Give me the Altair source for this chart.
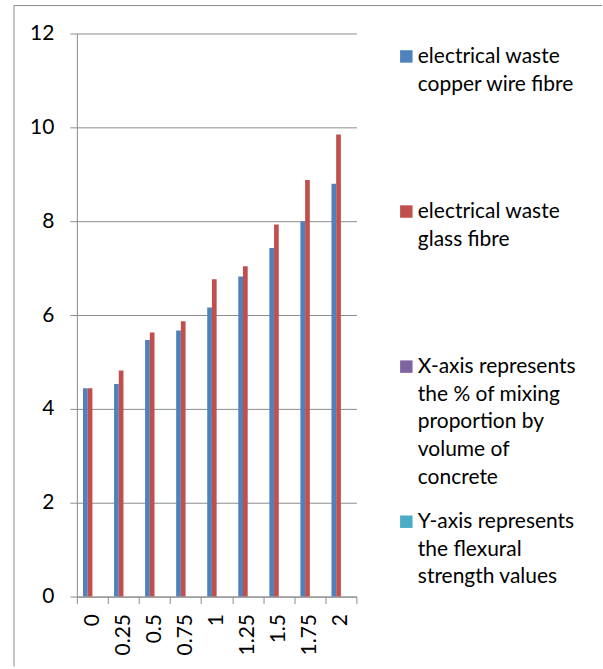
import altair as alt
import pandas as pd

# Mixing proportion (% by volume of concrete) on the x axis
categories = ["0", "0.25", "0.5", "0.75", "1", "1.25", "1.5", "1.75", "2"]

# Flexural strength values for each fibre type
copper_wire_fibre = [4.44, 4.53, 5.47, 5.67, 6.16, 6.82, 7.43, 8.00, 8.80]
glass_fibre = [4.44, 4.82, 5.63, 5.87, 6.76, 7.04, 7.93, 8.88, 9.85]

# Legend entries (the last two carry notes, not data)
series_keys = ["copper", "glass", "xnote", "ynote"]
series_labels = [
    "electrical waste\ncopper wire fibre",
    "electrical waste\nglass fibre",
    "X-axis represents\nthe % of mixing\nproportion by\nvolume of\nconcrete",
    "Y-axis represents\nthe flexural\nstrength values",
]
series_colors = ["#4F81BD", "#C0504D", "#8064A2", "#4BACC6"]

y_ticks = [0, 2, 4, 6, 8, 10, 12]

FONT = "Lato"
GRAY = "#8c8c8c"

bar_df = pd.DataFrame(
    {
        "category": categories * 2,
        "series": ["copper"] * len(categories) + ["glass"] * len(categories),
        "value": copper_wire_fibre + glass_fibre,
    }
)

color_scale = alt.Scale(domain=series_keys, range=series_colors)

# offset slots: one empty slot on each side leaves the gap between groups
offset_domain = ["_gap_l"] + series_keys + ["_gap_r"]

bars = alt.Chart(bar_df).mark_bar().encode(
    x=alt.X(
        "category:N",
        sort=categories,
        scale=alt.Scale(paddingInner=0, paddingOuter=0),
        axis=alt.Axis(
            title=None,
            labelAngle=270,
            tickBand="extent",
            tickSize=7,
            tickColor=GRAY,
            domainColor=GRAY,
            labelPadding=10,
            labelFontSize=21,
            labelColor="black",
            labelFont=FONT,
            grid=False,
        ),
    ),
    xOffset=alt.XOffset(
        "series:N",
        scale=alt.Scale(domain=offset_domain, paddingInner=0, paddingOuter=0.3),
    ),
    y=alt.Y(
        "value:Q",
        scale=alt.Scale(domain=[0, 12], nice=False),
        axis=alt.Axis(
            title=None,
            values=y_ticks,
            tickSize=7,
            tickColor=GRAY,
            domainColor=GRAY,
            gridColor=GRAY,
            gridWidth=1,
            labelPadding=16,
            labelFontSize=21,
            labelColor="black",
            labelFont=FONT,
        ),
    ),
    color=alt.Color("series:N", scale=color_scale, legend=None),
)

# Chart-area frame (top and left edges)
frame_df = pd.DataFrame({"k": [0]})
frame_top = alt.Chart(frame_df).mark_rule(color=GRAY, strokeWidth=1).encode(
    x=alt.value(-63), x2=alt.value(526), y=alt.value(-28)
)
frame_left = alt.Chart(frame_df).mark_rule(color=GRAY, strokeWidth=1).encode(
    x=alt.value(-63), y=alt.value(-28), y2=alt.value(634)
)

main = alt.layer(frame_top, frame_left, bars).properties(width=280, height=564)

# Legend drawn as its own panel
legend_df = pd.DataFrame({"series": series_keys, "label": series_labels})
legend_y = alt.Y(
    "series:N",
    sort=series_keys,
    scale=alt.Scale(type="point", padding=0.148),
    axis=None,
)
legend_squares = alt.Chart(legend_df).mark_point(
    shape="square", filled=True, size=156, opacity=1
).encode(
    x=alt.value(0),
    y=legend_y,
    color=alt.Color("series:N", scale=color_scale, legend=None),
)
legend_text = alt.Chart(legend_df).mark_text(
    align="left",
    baseline="alphabetic",
    dx=11.5,
    dy=6.5,
    lineBreak="\n",
    lineHeight=27.7,
    fontSize=21,
    font=FONT,
    color="black",
).encode(x=alt.value(0), y=legend_y, text="label:N")

legend = alt.layer(legend_squares, legend_text).properties(width=150, height=512)

chart = (
    alt.hconcat(main, legend, spacing=50, bounds="flush")
    .properties(padding={"left": 13, "top": 4, "right": 0, "bottom": 0})
    .configure(font=FONT)
    .configure_view(strokeWidth=0)
)

chart.save("out.html", embed_options={"renderer": "svg", "actions": False})
